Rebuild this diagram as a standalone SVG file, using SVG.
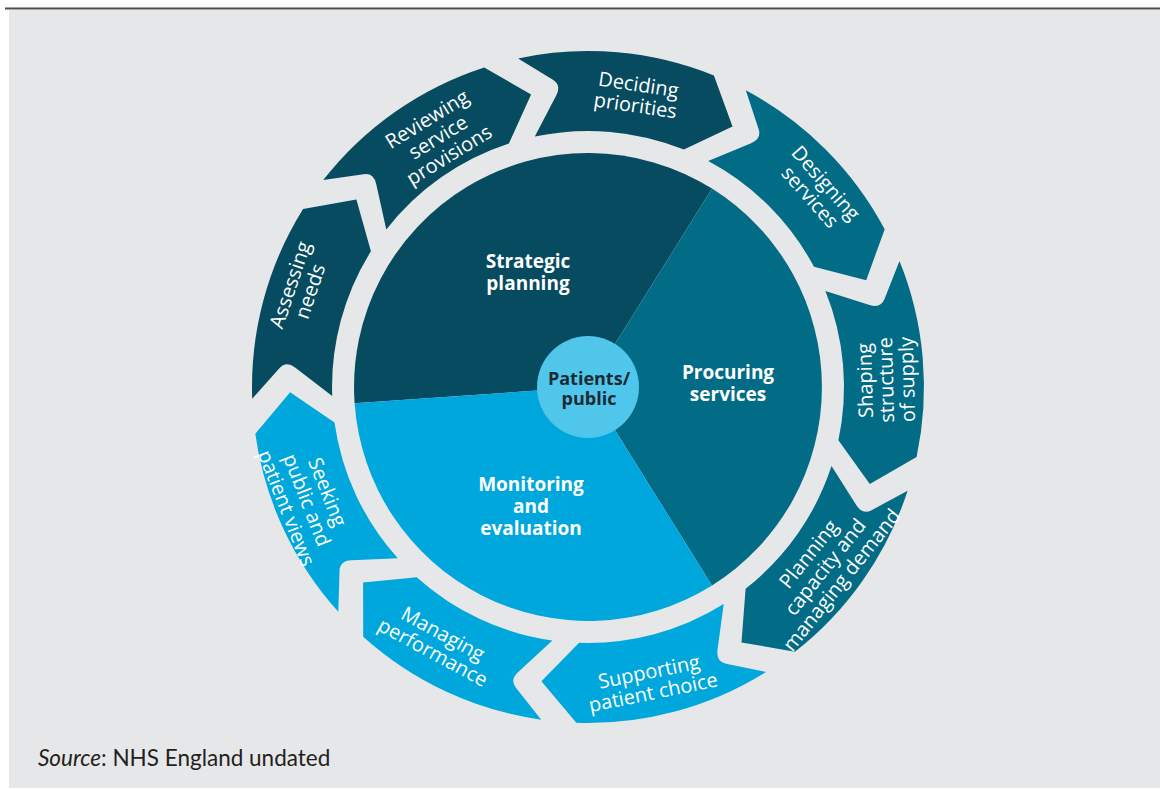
<svg xmlns="http://www.w3.org/2000/svg" width="1160" height="789" viewBox="0 0 1160 789">
  <style>
    .dark { fill: #064b5f; }
    .teal { fill: #026b86; }
    .light { fill: #00a7dc; }
    .hub { fill: #50c6eb; }
    .seg { font-family: "Open Sans", "Noto Sans", sans-serif; font-size: 20px; fill: #ffffff; text-anchor: middle; }
    .inner { font-family: "Open Sans", "Noto Sans", sans-serif; font-size: 19px; font-weight: 700; fill: #ffffff; text-anchor: middle; }
    .hubtext { font-family: "Open Sans", "Noto Sans", sans-serif; font-size: 18px; font-weight: 700; fill: #1b2a35; text-anchor: middle; }
    .source { font-family: Lato, "Liberation Sans", sans-serif; font-size: 22.5px; fill: #231f20; }
  </style>

  <!-- page background, rule and panel -->
  <rect x="0" y="0" width="1160" height="789" fill="#ffffff"/>
  <rect x="5" y="7.5" width="1155" height="2" fill="#4d4d4d"/>
  <rect x="9" y="10" width="1151" height="778" fill="#e6e7e8"/>

  <!-- inner disc: three phases around the centre (588,387), r=234 -->
  <g id="strategic-planning">
    <path class="dark" d="M588 387 L354.6 403.3 A234 234 0 0 1 712 188.6 Z"/>
    <text class="inner"><tspan x="528" y="268">Strategic</tspan><tspan x="528" y="290">planning</tspan></text>
  </g>
  <g id="procuring-services">
    <path class="teal" d="M588 387 L712 188.6 A234 234 0 0 1 712 585.4 Z"/>
    <text class="inner"><tspan x="728" y="379">Procuring</tspan><tspan x="728" y="401">services</tspan></text>
  </g>
  <g id="monitoring-evaluation">
    <path class="light" d="M588 387 L712 585.4 A234 234 0 0 1 354.6 403.3 Z"/>
    <text class="inner"><tspan x="531" y="491">Monitoring</tspan><tspan x="531" y="513">and</tspan><tspan x="531" y="535">evaluation</tspan></text>
  </g>

  <!-- hub -->
  <g id="patients-public">
    <circle class="hub" cx="588" cy="387" r="51"/>
    <text class="hubtext"><tspan x="589" y="385">Patients/</tspan><tspan x="589" y="405">public</tspan></text>
  </g>

  <!-- outer ring: nine chevron segments, inner r=256, outer r=336 -->
  <g id="deciding-priorities">
    <path class="dark" d="M518.1 58.4 A336 336 0 0 1 713.9 75.5 L732.5 126.4 L683.9 149.6 A256 256 0 0 0 534.8 136.6 L556.2 95.5 Q561.6 85.2 552.9 79.8 Z"/>
    <text class="seg" transform="translate(637 95) rotate(8.5)"><tspan x="0" y="-3.5">Deciding</tspan><tspan x="0" y="17.5">priorities</tspan></text>
  </g>
  <g id="designing-services">
    <path class="teal" d="M745.8 90.3 A336 336 0 0 1 884.7 229.3 L866.2 280.2 L814 266.8 A256 256 0 0 0 708.2 161 L751.1 143.2 Q761.8 138.8 758.6 129.1 Z"/>
    <text class="seg" transform="translate(818 190) rotate(48.5)"><tspan x="0" y="-3.5">Designing</tspan><tspan x="0" y="17.5">services</tspan></text>
  </g>
  <g id="shaping-structure">
    <path class="teal" d="M899.5 261.1 A336 336 0 0 1 916.6 456.9 L869.8 484 L838.4 440.2 A256 256 0 0 0 825.4 291.1 L869.6 305.1 Q880.7 308.6 884.5 299.1 Z"/>
    <text class="seg" transform="translate(886 380) rotate(-91.5)"><tspan x="0" y="-14">Shaping</tspan><tspan x="0" y="7">structure</tspan><tspan x="0" y="28">of supply</tspan></text>
  </g>
  <g id="planning-capacity">
    <path class="teal" d="M907.6 490.8 A336 336 0 0 1 794.9 651.8 L741.5 642.4 L745.6 588.7 A256 256 0 0 0 831.5 466.1 L856.4 505.2 Q862.6 515 871.6 510.2 Z"/>
    <text class="seg" transform="translate(825 567) rotate(-51.5)"><tspan x="0" y="-14">Planning</tspan><tspan x="0" y="7">capacity and</tspan><tspan x="0" y="28">managing demand</tspan></text>
  </g>
  <g id="supporting-choice">
    <path class="light" d="M766 671.9 A336 336 0 0 1 576.3 722.8 L541.4 681.3 L579.1 642.8 A256 256 0 0 0 723.7 604.1 L717.5 650.1 Q716 661.6 726 663.7 Z"/>
    <text class="seg" transform="translate(651 682) rotate(-11.5)"><tspan x="0" y="-3.5">Supporting</tspan><tspan x="0" y="17.5">patient choice</tspan></text>
  </g>
  <g id="managing-performance">
    <path class="light" d="M541.2 719.7 A336 336 0 0 1 363.2 636.7 L363.1 582.5 L416.7 577.2 A256 256 0 0 0 552.4 640.5 L518.2 671.9 Q509.6 679.7 515.9 687.7 Z"/>
    <text class="seg" transform="translate(438 643) rotate(28.5)"><tspan x="0" y="-3.5">Managing</tspan><tspan x="0" y="17.5">performance</tspan></text>
  </g>
  <g id="seeking-views">
    <path class="light" d="M338.3 611.8 A336 336 0 0 1 255.3 433.8 L290.1 392.2 L334.5 422.6 A256 256 0 0 0 397.8 558.3 L351.4 560.3 Q339.8 560.8 339.5 571 Z"/>
    <text class="seg" transform="translate(307 500) rotate(68.5)"><tspan x="0" y="-15">Seeking</tspan><tspan x="0" y="7">public and</tspan><tspan x="0" y="29">patient views</tspan></text>
  </g>
  <g id="assessing-needs">
    <path class="dark" d="M252.2 398.7 A336 336 0 0 1 303.1 209 L356.4 199.5 L370.9 251.3 A256 256 0 0 0 332.2 395.9 L295.4 367.7 Q286.2 360.6 279.4 368.2 Z"/>
    <text class="seg" transform="translate(300 288) rotate(-71.5)"><tspan x="0" y="-3.5">Assessing</tspan><tspan x="0" y="17.5">needs</tspan></text>
  </g>
  <g id="reviewing-provisions">
    <path class="dark" d="M323.2 180.1 A336 336 0 0 1 484.2 67.4 L531.1 94.5 L508.9 143.5 A256 256 0 0 0 386.3 229.4 L376.2 184 Q373.7 172.7 363.6 174.2 Z"/>
    <text class="seg" transform="translate(438 137) rotate(-31.5)"><tspan x="0" y="-14">Reviewing</tspan><tspan x="0" y="7">service</tspan><tspan x="0" y="28">provisions</tspan></text>
  </g>

  <!-- the cycle has no separate connector lines; segments point into one another -->
  <g id="connectors"/>

  <text class="source" x="38" y="766"><tspan font-style="italic">Source</tspan>: NHS England undated</text>
</svg>
